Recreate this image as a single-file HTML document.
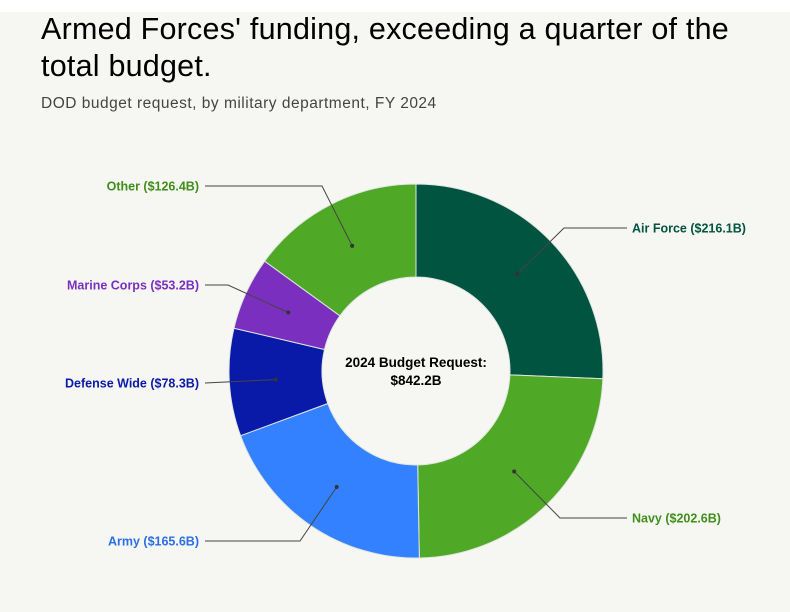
<!DOCTYPE html>
<html><head><meta charset="utf-8"><style>
html,body{margin:0;padding:0;width:790px;height:612px;overflow:hidden;background:#f6f6f2;font-family:"Liberation Sans",sans-serif}
.top{position:absolute;left:0;top:0;width:790px;height:12px;background:#fff;z-index:2}
h1{position:absolute;left:41px;top:-26px;margin:0;font-size:30.5px;font-weight:500;line-height:37px;color:#000;letter-spacing:0.22px;width:760px;white-space:nowrap}
.sub{position:absolute;left:41px;top:95px;font-size:15.5px;color:#444;letter-spacing:0.5px}
svg{position:absolute;left:0;top:0}
</style></head><body>
<div class="top"></div>
<h1>The Navy received the largest portion of the<br>Armed Forces' funding, exceeding a quarter of the<br>total budget.</h1>
<div class="sub">DOD budget request, by military department, FY 2024</div>
<svg id="chart" width="790" height="612"></svg>
<script>
const categories=["Air Force","Navy","Army","Defense Wide","Marine Corps","Other"];
const values=[216.1,202.6,165.6,78.3,53.2,126.4];
const valueLabels=["$216.1B","$202.6B","$165.6B","$78.3B","$53.2B","$126.4B"];
const colors=["#005440","#4fa826","#3381ff","#0a1aa8","#7b2fbf","#4fa826"];
const textColors=["#005440","#3f8f1a","#2a6fe6","#0a1aa8","#7b2fbf","#3f8f1a"];
const labelY=[228,518,541,383,285,186];
const side=[1,1,-1,-1,-1,-1];
const elbowX=[564,560,300,null,228,322];
const cx=416,cy=371,R=187,r=94;
const svg=document.getElementById('chart');
const NS="http://www.w3.org/2000/svg";
const total=values.reduce((a,b)=>a+b,0);
function pt(a,rad){return [cx+rad*Math.sin(a),cy-rad*Math.cos(a)];}
let acc=0;
values.forEach((v,i)=>{
 const a0=acc/total*2*Math.PI; acc+=v; const a1=acc/total*2*Math.PI;
 const large=(a1-a0)>Math.PI?1:0;
 const p0=pt(a0,R),p1=pt(a1,R),q1=pt(a1,r),q0=pt(a0,r);
 const p=document.createElementNS(NS,'path');
 p.setAttribute('d',`M${p0[0]},${p0[1]}A${R},${R} 0 ${large} 1 ${p1[0]},${p1[1]}L${q1[0]},${q1[1]}A${r},${r} 0 ${large} 0 ${q0[0]},${q0[1]}Z`);
 p.setAttribute('fill',colors[i]);p.setAttribute('stroke','#dfe6e0');p.setAttribute('stroke-width','1');
 
 
 svg.appendChild(p);
 const am=(a0+a1)/2; const d=pt(am,(R+r)/2);
 const ly=labelY[i];
 const endX=side[i]>0?627:205;
 const pts=elbowX[i]!==null?`${d[0]},${d[1]} ${elbowX[i]},${ly} ${endX},${ly}`:`${d[0]},${d[1]} ${endX},${ly}`;
 const l=document.createElementNS(NS,'polyline');
 l.setAttribute('points',pts);l.setAttribute('fill','none');l.setAttribute('stroke','#444');l.setAttribute('stroke-width','1');
 
 
 svg.appendChild(l);
 const c=document.createElementNS(NS,'circle');
 c.setAttribute('cx',d[0]);c.setAttribute('cy',d[1]);c.setAttribute('r','2');c.setAttribute('fill','#333');
 
 
 svg.appendChild(c);
 const t=document.createElementNS(NS,'text');
 t.setAttribute('x',side[i]>0?632:199);t.setAttribute('y',ly+4.5);
 t.setAttribute('text-anchor',side[i]>0?'start':'end');
 t.setAttribute('font-size','12.5');t.setAttribute('font-weight','bold');t.setAttribute('fill',textColors[i]);
 t.setAttribute('font-family','Liberation Sans, sans-serif');
 t.textContent=categories[i]+' ('+valueLabels[i]+')';
 
 
 svg.appendChild(t);
});
['2024 Budget Request:','$842.2B'].forEach((s,k)=>{
 const t=document.createElementNS(NS,'text');
 t.setAttribute('x',cx);t.setAttribute('y',367+k*18);t.setAttribute('text-anchor','middle');
 t.setAttribute('font-size','13.5');t.setAttribute('font-weight','bold');t.setAttribute('fill','#000');
 t.setAttribute('font-family','Liberation Sans, sans-serif');
 t.textContent=s;
 
 
 svg.appendChild(t);
});
</script>
</body></html>
